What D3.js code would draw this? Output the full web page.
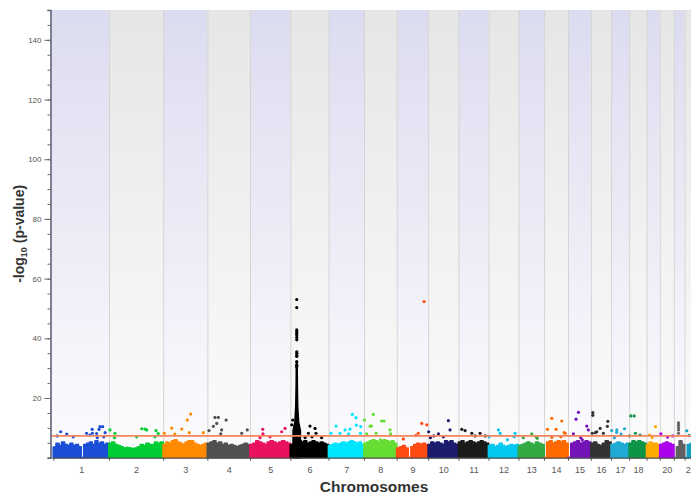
<!DOCTYPE html>
<html>
<head>
<meta charset="utf-8">
<script src="https://cdn.jsdelivr.net/npm/d3@7"></script>
<style>
  html, body { margin: 0; padding: 0; background: #fff; overflow: hidden; }
  svg { display: block; font-family: "Liberation Sans", Arial, sans-serif; }
</style>
</head>
<body>
<svg id="chart"></svg>
<script>
const CHROMOSOMES = ['1','2','3','4','5','6','7','8','9','10','11','12','13','14','15','16','17','18','19','20','21','22'];
// lengths in Mb
const CHROM_LENGTHS = [249.3, 243.2, 198.0, 191.2, 180.9, 171.1, 159.1, 146.4, 141.2, 135.5, 135.0, 133.9, 115.2, 107.3, 102.5, 90.4, 81.2, 78.1, 59.1, 63.0, 48.1, 51.3];
const CHROM_COLORS = ['#1a4ed6','#00cc33','#ff8a00','#505050','#e8125e','#000000','#00e5ff','#66dd33','#ff4a12','#1c1c6e','#1a1a1a','#00c8f0',
  '#33aa44','#ff6a00','#7413b8','#333333','#1eaad2','#0e9447','#ffaa00','#aa00ee','#606060','#129ec0'];

// top of the dense cloud of SNPs, equal bins along each chromosome (-log10 p)
const BASE_LEVELS = [
  [3.5, 4.8, 4.0, 5.2, 4.4, 4.0, 4.8, 4.0, 4.4, 3.6, 0, 4.4, 4.8, 5.2, 4.4, 5.6, 4.8, 5.2, 4.4, 4.8],
  [4.8, 5.2, 4.4, 4.0, 3.6, 3.2, 3.4, 3.2, 3.0, 3.2, 3.6, 4.4, 4.0, 4.8, 4.4, 4.4, 5.2, 4.8, 5.2],
  [4.4, 5.2, 4.8, 5.6, 6.0, 5.2, 4.8, 4.4, 5.2, 5.6, 5.6, 4.8, 4.4, 4.0, 4.4, 4.8],
  [4.8, 5.2, 5.6, 4.8, 5.2, 4.4, 4.8, 4.0, 4.4, 4.0, 3.6, 4.0, 4.4, 4.8, 4.4],
  [4.4, 4.8, 5.6, 5.2, 4.8, 4.4, 5.2, 5.6, 5.2, 4.8, 5.2, 5.6, 5.2, 4.8],
  [4.4, 4.8, 6.0, 5.6, 5.2, 5.6, 4.8, 5.2, 5.6, 5.2, 4.8, 5.2, 4.8, 4.4],
  [4.0, 4.4, 4.8, 4.4, 4.8, 5.2, 4.8, 5.2, 5.6, 5.2, 4.8, 5.2, 4.4],
  [4.8, 5.2, 5.6, 6.0, 5.6, 5.2, 5.6, 6.0, 5.6, 5.2, 5.6, 4.8],
  [3.2, 3.6, 4.0, 3.2, 0, 3.6, 4.4, 4.8, 4.4, 4.8, 4.4],
  [4.4, 5.2, 4.8, 5.2, 4.8, 4.4, 5.6, 5.2, 5.6, 4.8, 4.4],
  [5.2, 5.6, 4.8, 5.2, 5.6, 5.2, 4.8, 5.2, 5.6, 5.2, 4.8],
  [4.0, 4.4, 3.6, 4.0, 4.8, 4.0, 3.6, 4.0, 4.4, 4.0, 4.4],
  [4.0, 4.4, 4.8, 5.2, 4.8, 4.4, 5.2, 4.8, 4.4],
  [0, 5.2, 5.6, 4.8, 5.2, 5.6, 5.2, 5.6, 4.8],
  [0, 4.8, 5.2, 5.6, 4.8, 5.2, 5.6, 5.2],
  [4.8, 5.2, 4.4, 4.0, 4.8, 5.6, 5.2],
  [4.4, 4.8, 5.2, 4.8, 4.4, 4.8],
  [4.8, 5.6, 5.2, 5.6, 5.2, 4.8],
  [4.4, 5.2, 4.8, 4.8, 4.4],
  [4.4, 4.8, 5.2, 4.8, 4.4],
  [0, 3.6, 5.6, 4.4],
  [0, 4.4, 4.8, 5.2]
];

// chromosome 6 HLA column: [position Mb, -log10 p]
const HLA_PEAK = [[14, 9], [22, 12], [26, 17], [27.8, 24], [28.6, 32], [29.4, 24], [31, 17], [35, 12], [43, 9]];

// SNPs standing out of the cloud: [chromosome, position Mb, -log10 p]
const HITS = [
  [1,17,7.3],[1,33,8.7],[1,60,7.9],[1,89,7.0],[1,149,8.2],[1,164,7.6],[1,174,9.5],[1,175,8.2],[1,194,8.1],[1,197,6.7],[1,205,9.5],[1,209,10.4],[1,221,10.4],[1,226,7.0],[1,232,8.4],
  [2,4.6,9.3],[2,25,6.7],[2,27,8.2],[2,124,7.0],[2,147,9.7],[2,161.5,9.6],[2,169,9.3],[2,206,7.0],[2,211,9.1],[2,221,8.1],
  [3,4.9,8.2],[3,38,9.9],[3,52,7.9],[3,83,9.6],[3,108,12.6],[3,117,8.4],[3,123,14.6],[3,180,8.4],
  [4,7.4,9.1],[4,27,10.5],[4,34,13.5],[4,42,11.5],[4,49,13.5],[4,60,8.0],[4,64,9.3],[4,84,12.6],[4,154,8.2],[4,179,9.3],
  [5,45,6.7],[5,57,9.5],[5,58,8.0],[5,89.6,7.0],[5,142,8.7],[5,157,9.8],
  [6,6,11.0],[6,10.6,12.6],[6,66,6.7],[6,80.6,8.2],[6,88,10.6],[6,97,7.0],[6,110.6,9.8],[6,115,8.2],[6,140,6.7],
  [6,28.6,53.0],[6,28.6,50.3],[6,28.6,42.8],[6,28.8,42.2],[6,28.6,41.6],[6,28.6,41.1],[6,28.8,40.3],[6,28.6,39.5],
  [6,28.6,35.5],[6,28.8,35.0],[6,28.6,34.3],[6,28.6,33.9],[6,28.6,32.2],[6,28.8,31.0],[6,28.6,30.5],
  [7,11,8.2],[7,33.7,10.6],[7,51.6,8.2],[7,74,9.3],[7,90,8.0],[7,96.4,9.6],[7,106.8,14.5],[7,123,13.4],[7,125,10.9],[7,143,8.2],[7,144.4,10.4],
  [8,2,12.6],[8,12,8.0],[8,27,10.6],[8,33,10.6],[8,41.7,14.5],[8,54,8.2],[8,73,6.0],[8,79,12.3],[8,89.6,12.3],[8,116.6,9.3],[8,119,8.0],
  [9,30,6.3],[9,86,7.5],[9,97,8.2],[9,112.4,11.5],[9,122.8,52.3],[9,135,11.0],
  [10,2,8.7],[10,10,6.7],[10,25,7.3],[10,46,8.0],[10,68,7.0],[10,90.6,12.4],[10,98,9.3],
  [11,15,9.5],[11,30,9.1],[11,60,8.2],[11,75,7.3],[11,97,8.2],[11,120,7.3],
  [12,2,7.0],[12,44.3,9.3],[12,52,8.2],[12,85,6.0],[12,115,7.0],[12,119,8.2],
  [13,22,6.7],[13,60,8.0],[13,80,7.0],[13,85,6.5],
  [14,15,9.5],[14,34.6,13.2],[14,35,6.8],[14,54,9.5],[14,75,7.0],[14,79.5,12.3],[14,90,8.4],[14,95,8.2],
  [15,24,8.0],[15,36,12.9],[15,46.6,15.2],[15,57,6.7],[15,64,6.0],[15,84,10.6],[15,91,9.3],
  [16,6,8.2],[16,8.7,15.1],[16,8.7,14.2],[16,20,8.4],[16,26.6,8.7],[16,41.4,9.8],[16,56,8.2],[16,74,10.5],[16,76,12.2],
  [17,3,9.1],[17,15,6.7],[17,25,8.5],[17,26,9.3],[17,45,7.9],[17,60,9.7],
  [18,2,7.3],[18,7.5,14.0],[18,22.5,14.0],[18,28,8.2],[18,49,7.6],
  [19,13,7.6],[19,25,6.7],[19,40,10.4],
  [20,5,8.0],[20,35,6.9],[20,58,7.3],
  [21,21,11.7],[21,21,10.9],[21,21,10.1],[21,21,9.3],[21,21,8.2],
  [22,10,9.0],[22,20,7.5]
];

const Y_TICKS = [20, 40, 60, 80, 100, 120, 140];
const HIDDEN_LABELS = ['19', '21'];
const THRESHOLD = 7.3; // genome-wide significance, p = 5e-8

const WIDTH = 691, HEIGHT = 496;
const PLOT = {left: 52, right: 696, top: 10, bottom: 457.7};

const starts = [0, ...d3.cumsum(CHROM_LENGTHS)].slice(0, CHROM_LENGTHS.length);
const total = d3.sum(CHROM_LENGTHS);

const x = d3.scaleLinear().domain([-6, total]).range([PLOT.left, PLOT.right]);
const y = d3.scaleLinear().domain([0, 150]).range([PLOT.bottom, PLOT.top]);

const svg = d3.select('#chart').attr('width', WIDTH).attr('height', HEIGHT);

const defs = svg.append('defs');
function gradient(id, top, bottom) {
  const g = defs.append('linearGradient').attr('id', id)
    .attr('x1', 0).attr('y1', 0).attr('x2', 0).attr('y2', 1);
  g.append('stop').attr('offset', '0%').attr('stop-color', top);
  g.append('stop').attr('offset', '100%').attr('stop-color', bottom);
}
gradient('bandOdd', '#dcdcf0', '#fcfcfe');
gradient('bandEven', '#e6e6e6', '#fcfcfc');

// chromosome bands
svg.append('g')
  .selectAll('rect')
  .data(CHROMOSOMES)
  .enter()
  .append('rect')
  .attr('x', (d, i) => i === 0 ? PLOT.left : x(starts[i]))
  .attr('y', PLOT.top)
  .attr('width', (d, i) => x(starts[i] + CHROM_LENGTHS[i]) - (i === 0 ? PLOT.left : x(starts[i])))
  .attr('height', PLOT.bottom - PLOT.top)
  .attr('fill', (d, i) => i % 2 === 0 ? 'url(#bandOdd)' : 'url(#bandEven)');

svg.append('g')
  .selectAll('line')
  .data(starts.slice(1))
  .enter()
  .append('line')
  .attr('x1', d => x(d) + 0.5).attr('x2', d => x(d) + 0.5)
  .attr('y1', PLOT.top).attr('y2', PLOT.bottom)
  .attr('stroke', '#d4d4d4')
  .attr('stroke-width', 1);

// dense SNP cloud per chromosome
const cloud = d3.area()
  .x(d => x(d[0]))
  .y0(y(0))
  .y1(d => y(d[1]))
  .curve(d3.curveStep);

const clouds = svg.append('g');
BASE_LEVELS.forEach((levels, i) => {
  const len = CHROM_LENGTHS[i];
  const step = len / levels.length;
  const pts = [[0, levels[0]]]
    .concat(levels.map((v, j) => [(j + 0.5) * step, v]))
    .concat([[len, levels[levels.length - 1]]])
    .map(p => [starts[i] + p[0], p[1]]);
  clouds.append('path')
    .attr('d', cloud(pts))
    .attr('fill', CHROM_COLORS[i])
    .attr('stroke', CHROM_COLORS[i])
    .attr('stroke-width', 1.8)
    .attr('stroke-linejoin', 'round');
});

// HLA column on chromosome 6
const c6 = CHROMOSOMES.indexOf('6');
clouds.append('path')
  .attr('d', d3.area()
    .x(d => x(starts[c6] + d[0]))
    .y0(y(0))
    .y1(d => y(d[1]))(HLA_PEAK))
  .attr('fill', CHROM_COLORS[c6])
  .attr('stroke', CHROM_COLORS[c6])
  .attr('stroke-width', 2.4)
  .attr('stroke-linejoin', 'round');

// standout SNPs
svg.append('g')
  .selectAll('circle')
  .data(HITS)
  .enter()
  .append('circle')
  .attr('cx', d => x(starts[d[0] - 1] + d[1]))
  .attr('cy', d => y(d[2]))
  .attr('r', 1.6)
  .attr('fill', d => CHROM_COLORS[d[0] - 1]);

// significance line
svg.append('line')
  .attr('x1', PLOT.left).attr('x2', PLOT.right)
  .attr('y1', y(THRESHOLD)).attr('y2', y(THRESHOLD))
  .attr('stroke', '#f4845f')
  .attr('stroke-width', 1.6);

// x axis: boundary ticks, then centred labels
const xAxis = svg.append('g')
  .attr('transform', `translate(0, ${PLOT.bottom})`)
  .call(d3.axisBottom(x).tickValues([0, ...starts.slice(1), total]).tickSize(3).tickSizeOuter(0).tickFormat(''));
xAxis.select('.domain').attr('stroke', '#555').attr('stroke-width', 1.2);
xAxis.selectAll('.tick line').attr('stroke', '#555');

const centers = CHROMOSOMES.map((c, i) => starts[i] + CHROM_LENGTHS[i] / 2);
const xLabels = svg.append('g')
  .attr('transform', `translate(0, ${PLOT.bottom})`)
  .call(d3.axisBottom(x).tickValues(centers).tickSize(0).tickPadding(9)
    .tickFormat((d, i) => HIDDEN_LABELS.includes(CHROMOSOMES[i]) ? '' : CHROMOSOMES[i]));
xLabels.select('.domain').remove();
xLabels.selectAll('text').attr('fill', '#555').attr('font-size', 9).attr('font-family', '"Liberation Sans", Arial, sans-serif');

// y axis: minor ticks every 5, labelled every 20
const yMinor = svg.append('g')
  .attr('transform', `translate(${PLOT.left - 1.5}, 0)`)
  .call(d3.axisLeft(y).tickValues(d3.range(0, 151, 5)).tickSize(3).tickSizeOuter(3).tickFormat(''));
yMinor.select('.domain').attr('stroke', '#4a4a66').attr('stroke-width', 1.4);
yMinor.selectAll('.tick line').attr('stroke', '#666');

const yMajor = svg.append('g')
  .attr('transform', `translate(${PLOT.left - 1.5}, 0)`)
  .call(d3.axisLeft(y).tickValues(Y_TICKS).tickSize(6).tickPadding(3));
yMajor.select('.domain').remove();
yMajor.selectAll('.tick line').attr('stroke', '#666');
yMajor.selectAll('text').attr('fill', '#555').attr('font-size', 8).attr('font-family', '"Liberation Sans", Arial, sans-serif');

// titles
svg.append('text')
  .attr('x', (PLOT.left + PLOT.right) / 2)
  .attr('y', 492)
  .attr('text-anchor', 'middle')
  .attr('font-size', 15.5)
  .attr('font-weight', 'bold')
  .attr('fill', '#333')
  .text('Chromosomes');

const yTitle = svg.append('text')
  .attr('transform', `translate(24, ${(PLOT.top + PLOT.bottom) / 2}) rotate(-90)`)
  .attr('text-anchor', 'middle')
  .attr('font-size', 14)
  .attr('font-weight', 'bold')
  .attr('fill', '#333');
yTitle.append('tspan').text('-log');
yTitle.append('tspan').attr('font-size', 9).attr('dy', 3).text('10');
yTitle.append('tspan').attr('dy', -3).text(' (p-value)');
</script>
</body>
</html>
